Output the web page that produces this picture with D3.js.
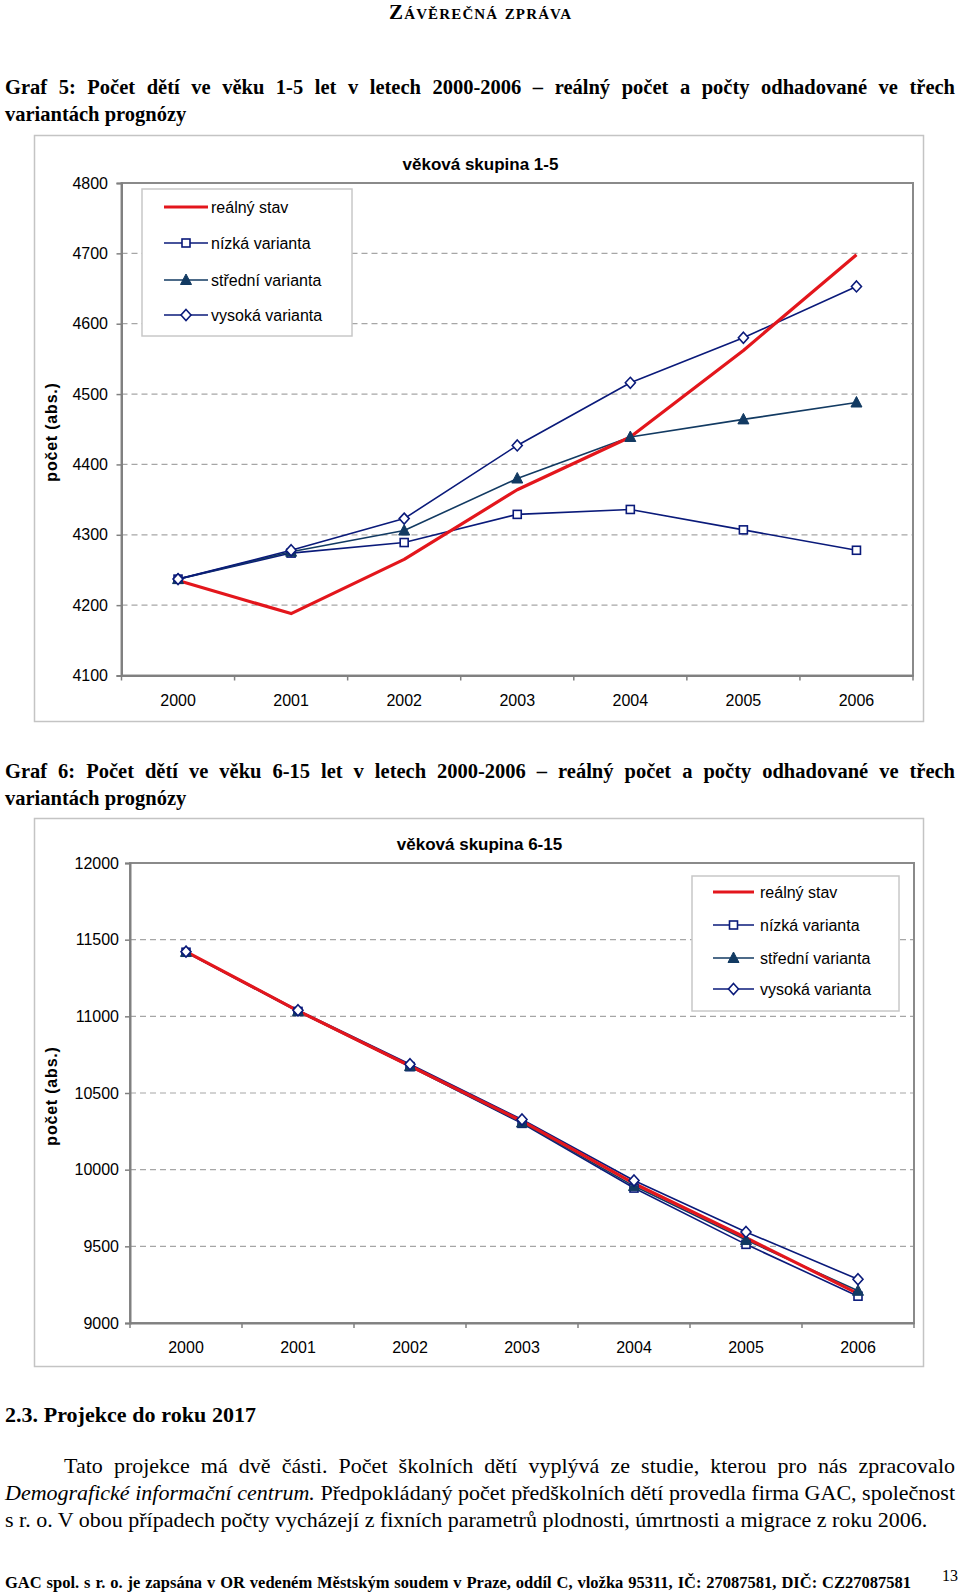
<!DOCTYPE html>
<html><head><meta charset="utf-8">
<script src="https://cdn.jsdelivr.net/npm/d3@7"></script>
<style>body{margin:0;background:#fff}svg{display:block}</style>
</head><body>
<svg id="page" width="960" height="1593"></svg>
<script>
// ---------- data ----------
const years = ["2000","2001","2002","2003","2004","2005","2006"];
const seriesNames = ["reálný stav","nízká varianta","střední varianta","vysoká varianta"];

const g1Real    = [4235, 4188, 4265, 4364, 4439, 4562, 4698];
const g1Nizka   = [4237, 4274, 4289, 4329, 4336, 4307, 4278];
const g1Stredni = [4237, 4276, 4306, 4380, 4439, 4464, 4488];
const g1Vysoka  = [4237, 4278, 4323, 4427, 4516, 4580, 4653];
const g1Ticks   = [4100, 4200, 4300, 4400, 4500, 4600, 4700, 4800];

const g2Real    = [11422, 11036, 10676, 10316, 9910, 9556, 9192];
const g2Nizka   = [11418, 11032, 10672, 10302, 9880, 9513, 9175];
const g2Stredni = [11420, 11034, 10675, 10307, 9893, 9541, 9210];
const g2Vysoka  = [11422, 11040, 10688, 10327, 9929, 9594, 9285];
const g2Ticks   = [9000, 9500, 10000, 10500, 11000, 11500, 12000];

const chartTitles = ["věková skupina 1-5", "věková skupina 6-15"];
const yTitle = "počet (abs.)";

// ---------- styles ----------
const styles = [
  {color:"#e3161c", width:3.2, marker:null},
  {color:"#0a1a7a", width:1.6, marker:"square"},
  {color:"#123a62", width:1.6, marker:"triangle"},
  {color:"#0a1a7a", width:1.6, marker:"diamond"}
];
const SANS = "'Liberation Sans', Arial, sans-serif";
const SERIF = "'Liberation Serif', 'Times New Roman', serif";

const svg = d3.select("#page");
svg.append("rect").attr("width",960).attr("height",1593).attr("fill","#fff");

// ---------- text helpers ----------
function textLine(x, y, str, opts) {
  const t = svg.append("text").attr("x", x).attr("y", y)
    .attr("font-family", opts.family || SERIF)
    .attr("font-size", opts.size)
    .attr("font-weight", opts.weight || "normal")
    .attr("fill", "#000");
  if (opts.variant) t.attr("font-variant", opts.variant);
  if (opts.anchor) t.attr("text-anchor", opts.anchor);
  if (Array.isArray(str)) {
    str.forEach(p => t.append("tspan").attr("font-style", p.italic ? "italic" : "normal").text(p.t));
  } else t.text(str);
  if (opts.width) {
    const nat = t.node().getComputedTextLength();
    const full = Array.isArray(str) ? str.map(p=>p.t).join("") : str;
    const spaces = (full.match(/ /g) || []).length;
    if (opts.stretch) {
      t.attr("textLength", opts.width).attr("lengthAdjust", "spacing");
    } else if (opts.justify && nat < opts.width && spaces > 0) {
      t.attr("word-spacing", (opts.width - nat) / spaces);
    } else if (nat > opts.width) {
      t.attr("textLength", opts.width).attr("lengthAdjust", "spacingAndGlyphs");
    }
  }
  return t;
}

// ---------- page text ----------
textLine(389, 19, "Závěrečná zpráva", {size:21, weight:"bold", variant:"small-caps", width:182, stretch:true});
textLine(5, 94, "Graf 5: Počet dětí ve věku 1-5 let v letech 2000-2006 – reálný počet a počty odhadované ve třech",
  {size:20.5, weight:"bold", width:950, justify:true});
textLine(5, 121, "variantách prognózy", {size:20.5, weight:"bold"});
textLine(5, 778, "Graf 6: Počet dětí ve věku 6-15 let v letech 2000-2006 – reálný počet a počty odhadované ve třech",
  {size:20.5, weight:"bold", width:950, justify:true});
textLine(5, 805, "variantách prognózy", {size:20.5, weight:"bold"});
textLine(5, 1422, "2.3. Projekce do roku 2017", {size:22, weight:"bold", width:251, justify:true});
textLine(64, 1473, "Tato projekce má dvě části. Počet školních dětí vyplývá ze studie, kterou pro nás zpracovalo",
  {size:22, width:891, justify:true});
textLine(5, 1500, [{t:"Demografické informační centrum.", italic:true},{t:" Předpokládaný počet předškolních dětí provedla firma GAC, společnost"}],
  {size:22, width:950, justify:true});
textLine(5, 1527, "s r. o. V obou případech počty vycházejí z fixních parametrů plodnosti, úmrtnosti a migrace z roku 2006.",
  {size:22, width:935});
textLine(5, 1588, "GAC spol. s r. o. je zapsána v OR vedeném Městským soudem v Praze, oddíl C, vložka 95311, IČ: 27087581, DIČ: CZ27087581",
  {size:16.5, weight:"bold", width:906, justify:true});
textLine(942, 1581, "13", {size:16});

// ---------- markers ----------
function drawMarker(g, type, cx, cy, color) {
  if (type === "square") {
    g.append("rect").attr("x", cx-4).attr("y", cy-4).attr("width", 8).attr("height", 8)
      .attr("fill", "#fff").attr("stroke", color).attr("stroke-width", 1.6);
  } else if (type === "triangle") {
    g.append("path").attr("d", `M${cx},${cy-6}L${cx+5.5},${cy+4.5}L${cx-5.5},${cy+4.5}Z`)
      .attr("fill", color).attr("stroke", color).attr("stroke-width", 1);
  } else if (type === "diamond") {
    g.append("path").attr("d", `M${cx},${cy-5.5}L${cx+5},${cy}L${cx},${cy+5.5}L${cx-5},${cy}Z`)
      .attr("fill", "#fff").attr("stroke", color).attr("stroke-width", 1.6);
  }
}

// ---------- chart ----------
function drawChart(cfg) {
  const g = svg.append("g");
  g.append("rect").attr("x", cfg.frame[0]+0.5).attr("y", cfg.frame[1]+0.5)
    .attr("width", cfg.frame[2]).attr("height", cfg.frame[3])
    .attr("fill", "#fff").attr("stroke", "#c4c4c4").attr("stroke-width", 1.5);

  const x = d3.scaleBand().domain(years).range([cfg.left, cfg.right]);
  const y = d3.scaleLinear().domain(d3.extent(cfg.ticks)).range([cfg.bottom, cfg.top]);

  g.append("g").selectAll("line").data(cfg.ticks.slice(1, -1)).join("line")
    .attr("x1", cfg.left).attr("x2", cfg.right)
    .attr("y1", d => y(d)).attr("y2", d => y(d))
    .attr("stroke", "#a6a6a6").attr("stroke-width", 1.2).attr("stroke-dasharray", "6,4");

  g.append("rect").attr("x", cfg.left).attr("y", cfg.top)
    .attr("width", cfg.right - cfg.left).attr("height", cfg.bottom - cfg.top)
    .attr("fill", "none").attr("stroke", "#8a8a8a").attr("stroke-width", 2);

  const ya = g.append("g").attr("transform", `translate(${cfg.left},0)`)
    .call(d3.axisLeft(y).tickValues(cfg.ticks).tickSize(5).tickPadding(cfg.yPad).tickFormat(d3.format("d")));
  ya.select(".domain").attr("stroke", "#808080").attr("stroke-width", 2);
  ya.selectAll(".tick line").attr("stroke", "#808080").attr("stroke-width", 1.5);
  ya.selectAll("text").attr("font-family", SANS).attr("font-size", 16).attr("fill", "#000");

  const xa = g.append("g").attr("transform", `translate(0,${cfg.bottom})`)
    .call(d3.axisBottom(x).tickSize(0).tickPadding(cfg.xPad));
  xa.select(".domain").attr("stroke", "#808080").attr("stroke-width", 2);
  xa.selectAll("text").attr("font-family", SANS).attr("font-size", 16).attr("fill", "#000");
  const bounds = years.map(d => x(d)).concat([x(years[years.length-1]) + x.step()]);
  g.append("g").selectAll("line").data(bounds).join("line")
    .attr("x1", d => d).attr("x2", d => d).attr("y1", cfg.bottom).attr("y2", cfg.bottom + 5)
    .attr("stroke", "#808080").attr("stroke-width", 1.5);

  g.append("text").attr("x", cfg.titleX).attr("y", cfg.titleY)
    .attr("text-anchor", "middle").attr("font-family", SANS).attr("font-size", 17)
    .attr("font-weight", "bold").text(cfg.title);
  g.append("text").attr("transform", `translate(${cfg.yTitlePos[0]},${cfg.yTitlePos[1]}) rotate(-90)`)
    .attr("text-anchor", "middle").attr("dominant-baseline", "central")
    .attr("font-family", SANS).attr("font-size", 16).attr("font-weight", "bold")
    .attr("letter-spacing", 0.8).text(yTitle);

  const line = d3.line().x((d, i) => x(years[i]) + x.bandwidth()/2).y(d => y(d));
  [1, 2, 3, 0].forEach(si => {
    g.append("path").datum(cfg.series[si]).attr("d", line)
      .attr("fill", "none").attr("stroke", styles[si].color)
      .attr("stroke-width", styles[si].width).attr("stroke-linejoin", "round");
  });
  [1, 2, 3].forEach(si => {
    cfg.series[si].forEach((v, i) => drawMarker(g, styles[si].marker, x(years[i]) + x.bandwidth()/2, y(v), styles[si].color));
  });

  const L = cfg.legend;
  g.append("rect").attr("x", L.x).attr("y", L.y).attr("width", L.w).attr("height", L.h)
    .attr("fill", "#fff").attr("stroke", "#c8c8c8").attr("stroke-width", 1.5);
  seriesNames.forEach((name, si) => {
    const cy = L.items[si];
    g.append("line").attr("x1", L.lx1).attr("x2", L.lx2).attr("y1", cy).attr("y2", cy)
      .attr("stroke", styles[si].color).attr("stroke-width", styles[si].width);
    if (styles[si].marker) drawMarker(g, styles[si].marker, (L.lx1 + L.lx2)/2, cy, styles[si].color);
    g.append("text").attr("x", L.tx).attr("y", cy).attr("dominant-baseline", "central")
      .attr("font-family", SANS).attr("font-size", 16).text(name);
  });
}

drawChart({
  frame:[34, 135, 889, 586], left:121.5, right:913, top:183, bottom:675.5,
  ticks:g1Ticks, yPad:8.5, xPad:19, title:chartTitles[0], titleX:480.5, titleY:170,
  yTitlePos:[51, 432],
  series:[g1Real, g1Nizka, g1Stredni, g1Vysoka],
  legend:{x:142, y:189, w:210, h:147, items:[207, 243, 280, 315], lx1:164, lx2:208, tx:211}
});
drawChart({
  frame:[34, 818, 889, 548], left:130, right:914, top:863, bottom:1323,
  ticks:g2Ticks, yPad:6, xPad:18.5, title:chartTitles[1], titleX:479.5, titleY:850,
  yTitlePos:[51, 1096],
  series:[g2Real, g2Nizka, g2Stredni, g2Vysoka],
  legend:{x:692, y:876, w:207, h:135, items:[892, 925, 958, 989], lx1:713, lx2:754, tx:760}
});
</script>
</body></html>
